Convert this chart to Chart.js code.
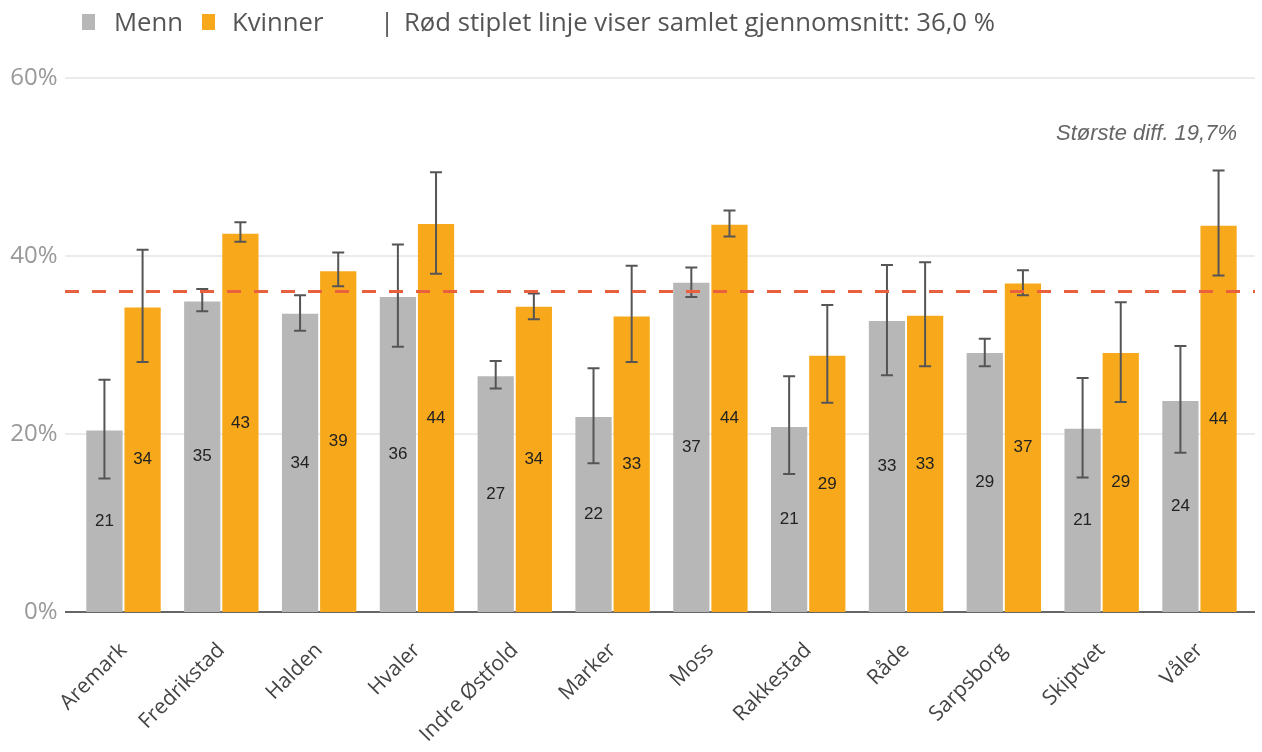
<!DOCTYPE html>
<html>
<head>
<meta charset="utf-8">
<script src="https://cdn.jsdelivr.net/npm/chart.js@4.4.0/dist/chart.umd.min.js"></script>
<style>
  html, body { margin: 0; padding: 0; background: #fff; }
  #wrap { position: relative; width: 1262px; height: 752px; }
  .leg { position: absolute; top: 9px; font-family: "Open Sans", sans-serif; font-size: 25.7px; line-height: 25px; color: #555; white-space: nowrap; }
  .box { position: absolute; top: 14px; width: 13px; height: 16px; }
</style>
</head>
<body>
<div id="wrap">
  <canvas id="Chart_Kjonn" width="1262" height="752"></canvas>
  <div class="box" style="left:82px; background:#b7b7b7"></div>
  <div class="leg" style="left:114px">Menn</div>
  <div class="box" style="left:202px; background:#f8a91b"></div>
  <div class="leg" style="left:232px">Kvinner</div>
  <div class="leg" style="left:380px">|</div>
  <div class="leg" style="left:404px">Rød stiplet linje viser samlet gjennomsnitt: 36,0 %</div>
</div>
<script>
const kommuner = ['Aremark', 'Fredrikstad', 'Halden', 'Hvaler', 'Indre Østfold', 'Marker', 'Moss', 'Rakkestad', 'Råde', 'Sarpsborg', 'Skiptvet', 'Våler']

const menn = [20.4, 34.9, 33.5, 35.4, 26.5, 21.9, 37.0, 20.8, 32.7, 29.1, 20.6, 23.7]
const kvinner = [34.2, 42.5, 38.3, 43.6, 34.3, 33.2, 43.5, 28.8, 33.3, 36.9, 29.1, 43.4]
const mennTekst = [21, 35, 34, 36, 27, 22, 37, 21, 33, 29, 21, 24]
const kvinnerTekst = [34, 43, 39, 44, 34, 33, 44, 29, 33, 37, 29, 44]

// konfidensintervall
const mennLav = [15.0, 33.8, 31.6, 29.8, 25.1, 16.7, 35.4, 15.5, 26.6, 27.6, 15.1, 17.9]
const mennHoy = [26.1, 36.3, 35.6, 41.3, 28.2, 27.4, 38.7, 26.5, 39.0, 30.7, 26.3, 29.9]
const kvinnerLav = [28.1, 41.6, 36.6, 38.0, 32.9, 28.1, 42.2, 23.5, 27.6, 35.6, 23.6, 37.8]
const kvinnerHoy = [40.7, 43.8, 40.4, 49.4, 35.8, 38.9, 45.1, 34.5, 39.3, 38.4, 34.8, 49.6]

const snitt = 36.0
const yTicks = [0, 20, 40, 60]
const diffTekst = 'Største diff. 19,7%'

const extras = {
  id: 'extras',
  beforeDatasetsDraw(chart) {
    const ctx = chart.ctx, y = chart.scales.y
    ctx.save()
    yTicks.forEach((t) => {
      const py = y.getPixelForValue(t)
      ctx.beginPath()
      ctx.strokeStyle = t === 0 ? '#666' : '#ebebeb'
      ctx.lineWidth = 2
      ctx.moveTo(65, py)
      ctx.lineTo(1255, py)
      ctx.stroke()
    })
    ctx.restore()
  },
  afterDatasetsDraw(chart) {
    const ctx = chart.ctx, y = chart.scales.y
    ctx.save()
    // verdier midt i søylene
    ctx.font = '17px "Liberation Sans", Arial, sans-serif'
    ctx.fillStyle = '#222'
    ctx.textAlign = 'center'
    ctx.textBaseline = 'middle'
    ;[mennTekst, kvinnerTekst].forEach((tekst, di) => {
      chart.getDatasetMeta(di).data.forEach((bar, i) => {
        ctx.fillText(tekst[i], bar.x, (bar.y + bar.base) / 2)
      })
    })
    // feilstolper
    ctx.strokeStyle = '#555'
    ctx.lineWidth = 2
    ;[[mennLav, mennHoy], [kvinnerLav, kvinnerHoy]].forEach((par, di) => {
      chart.getDatasetMeta(di).data.forEach((bar, i) => {
        const y1 = y.getPixelForValue(par[0][i]), y2 = y.getPixelForValue(par[1][i])
        ctx.beginPath()
        ctx.moveTo(bar.x, y1); ctx.lineTo(bar.x, y2)
        ctx.moveTo(bar.x - 6, y1); ctx.lineTo(bar.x + 6, y1)
        ctx.moveTo(bar.x - 6, y2); ctx.lineTo(bar.x + 6, y2)
        ctx.stroke()
      })
    })
    // gjennomsnittslinje
    const py = y.getPixelForValue(snitt)
    ctx.beginPath()
    ctx.strokeStyle = '#e8603c'
    ctx.lineWidth = 3
    ctx.setLineDash([14, 13])
    ctx.moveTo(65, py)
    ctx.lineTo(1255, py)
    ctx.stroke()
    ctx.setLineDash([])
    ctx.font = 'italic 22px "Liberation Sans", Arial, sans-serif'
    ctx.fillStyle = '#666'
    ctx.textAlign = 'right'
    ctx.textBaseline = 'alphabetic'
    ctx.fillText(diffTekst, 1237, 140)
    ctx.restore()
  }
}

var ctx = document.getElementById('Chart_Kjonn').getContext('2d')
var chart = new Chart(ctx, {
  type: 'bar',
  data: {
    labels: kommuner,
    datasets: [{
      label: 'Menn',
      backgroundColor: '#b7b7b7',
      data: menn
    }, {
      label: 'Kvinner',
      backgroundColor: '#f8a91b',
      data: kvinner
    }]
  },
  options: {
    responsive: false,
    animation: false,
    events: [],
    categoryPercentage: 0.78,
    barPercentage: 0.95,
    layout: { padding: { top: 78, right: 13.6, left: 0, bottom: 0 } },
    plugins: { legend: { display: false }, tooltip: { enabled: false } },
    scales: {
      x: {
        grid: { display: false },
        border: { display: false },
        ticks: {
          autoSkip: false,
          maxRotation: 45,
          minRotation: 45,
          padding: 18,
          color: '#444',
          font: { family: '"Open Sans", sans-serif', size: 21 }
        },
        afterFit: (s) => { s.height = 140 }
      },
      y: {
        min: 0,
        max: 60,
        grid: { display: false, drawTicks: false },
        border: { display: false },
        afterBuildTicks: (s) => { s.ticks = yTicks.map((v) => ({ value: v })) },
        ticks: {
          padding: 17,
          color: '#999',
          font: { family: '"Open Sans", sans-serif', size: 24 },
          callback: (v) => v + '%'
        },
        afterFit: (s) => { s.width = 74.6 }
      }
    }
  },
  plugins: [extras]
})
</script>
</body>
</html>
